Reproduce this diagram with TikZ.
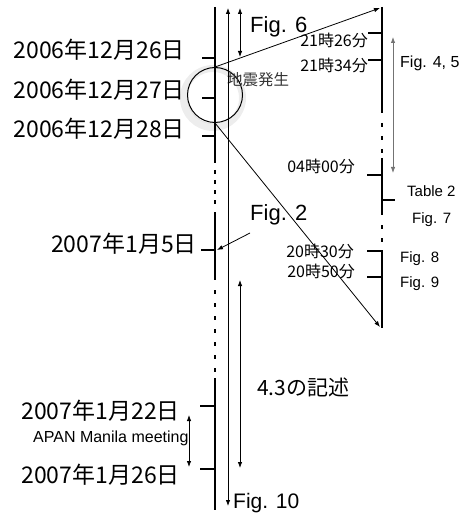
\documentclass[tikz,border=0pt]{standalone}
\usepackage{fontspec}
\setmainfont{Liberation Sans}
\newfontfamily\jp{Noto Sans CJK JP}
\usetikzlibrary{arrows.meta}
\begin{document}
\begin{tikzpicture}[x=1bp,y=-1bp,
  tl/.style={line width=2.6bp},
  dotA/.style={line width=2.6bp, dash pattern=on 4bp off 6bp},
  dotB/.style={line width=2.6bp, dash pattern=on 4bp off 9bp},
  tip/.tip={Latex[length=6bp,width=4.5bp]},
  arr/.style={line width=0.8bp, -tip},
  darr/.style={line width=0.8bp, tip-tip},
  datelbl/.style={font={\jp\fontsize{23bp}{27bp}\selectfont}, anchor=base east, inner sep=0},
  timelbl/.style={font={\jp\fontsize{16bp}{19bp}\selectfont}, anchor=base east, inner sep=0},
  figL/.style={font={\fontsize{22bp}{26bp}\selectfont}, anchor=base west, inner sep=0},
  figS/.style={font={\fontsize{15bp}{18bp}\selectfont}, anchor=base west, inner sep=0}
]
\useasboundingbox (0,0) rectangle (469,517);

% ---------- earthquake circle shadow ----------
\draw[black!12, line width=4bp] (214,97) circle (28.5);
\draw[black!7, line width=7bp] (213,98) circle (29.5);

% ---------- left timeline ----------
\coordinate (L0) at (215,7);
\coordinate (L1) at (215,163);
\coordinate (L1a) at (215,170);
\coordinate (L1b) at (215,206);
\coordinate (L2) at (215,212);
\coordinate (L3) at (215,280);
\coordinate (L3a) at (215,290);
\coordinate (L3b) at (215,374);
\coordinate (L4) at (215,378);
\coordinate (L5) at (215,510);
\draw[tl] (L0) -- (L1);
\draw[dotA] (L1a) -- (L1b);
\draw[tl] (L2) -- (L3);
\draw[dotB] (L3a) -- (L3b);
\draw[tl] (L4) -- (L5);

% ticks left
\coordinate (d1) at (215,58);
\coordinate (d2) at (215,98);
\coordinate (d3) at (215,136);
\coordinate (d4) at (215,250);
\coordinate (d5) at (215,406);
\coordinate (d6) at (215,469);
\draw[tl] (d1) -- ++(-13,0);
\draw[tl] (d2) -- ++(-13,0);
\draw[tl] (d3) -- ++(-13,0);
\draw[tl] (d4) -- ++(-14,0);
\draw[tl] (d5) -- ++(-15,0);
\draw[tl] (d6) -- ++(-15,0);

% dates
\node[datelbl] (t1) at (185,59) {2006年12月26日};
\node[datelbl] (t2) at (185,99) {2006年12月27日};
\node[datelbl] (t3) at (185,138) {2006年12月28日};
\node[datelbl] (t4) at (197,252) {2007年1月5日};
\node[datelbl] (t5) at (180,419) {2007年1月22日};
\node[datelbl] (t6) at (180,483) {2007年1月26日};

% ---------- right timeline ----------
\coordinate (R0) at (382,7);
\coordinate (R1) at (382,113);
\coordinate (R1a) at (382,123);
\coordinate (R1b) at (382,154);
\coordinate (R2) at (382,158);
\coordinate (R3) at (382,215);
\coordinate (R3a) at (382,225);
\coordinate (R3b) at (382,244);
\coordinate (R4) at (382,250);
\coordinate (R5) at (382,328);
\draw[tl] (R0) -- (R1);
\draw[dotB] (R1a) -- (R1b);
\draw[tl] (R2) -- (R3);
\draw[dotB] (R3a) -- (R3b);
\draw[tl] (R4) -- (R5);

\coordinate (h1) at (382,33);
\coordinate (h2) at (382,60);
\coordinate (h3) at (382,175);
\coordinate (h4) at (382,200);
\coordinate (h5) at (382,251);
\coordinate (h6) at (382,277);
\draw[tl] (h1) -- ++(-14,0);
\draw[tl] (h2) -- ++(-14,0);
\draw[tl] (h3) -- ++(-15,0);
\draw[tl] (h4) -- ++(13,0);
\draw[tl] (h5) -- ++(-15,0);
\draw[tl] (h6) -- ++(-15,0);

\node[timelbl] (m1) at (368,47) {21時26分};
\node[timelbl] (m2) at (368,72) {21時34分};
\node[timelbl] (m3) at (355,173) {04時00分};
\node[timelbl] (m4) at (354,257) {20時30分};
\node[timelbl] (m5) at (355,277) {20時50分};

\node[figS] (tab2) at (407,197) {Table 2};
\node[figS] (f7) at (412,223) {Fig. 7};
\node[figS] (f8) at (400,262) {Fig. 8};
\node[figS] (f9) at (400,287) {Fig. 9};
\node[font={\fontsize{16bp}{19bp}\selectfont}, anchor=base west, inner sep=0] (f45) at (400,68) {Fig. 4, 5};

% ---------- earthquake circle ----------
\node[circle, draw, line width=1bp, minimum size=55bp, inner sep=0] (quake) at (215,95) {};
\node[font={\jp\fontsize{15.5bp}{18bp}\selectfont}, anchor=base west, inner sep=0, text=black!80] (eq) at (227,86) {地震発生};

% ---------- arrows ----------
\coordinate (a1t) at (228,8);
\coordinate (a1b) at (228,506);
\draw[darr] (a1t) -- (a1b);
\coordinate (a2t) at (240,8);
\coordinate (a2b) at (240,57);
\draw[darr] (a2t) -- (a2b);
\coordinate (a3t) at (393,37);
\coordinate (a3b) at (393,173);
\draw[darr, draw=black!55, fill=black!55] (a3t) -- (a3b);
\coordinate (a4t) at (240,280);
\coordinate (a4b) at (240,468);
\draw[darr] (a4t) -- (a4b);
\coordinate (a5t) at (189,415);
\coordinate (a5b) at (189,467);
\draw[darr] (a5t) -- (a5b);

\coordinate (rt) at (380,8);
\coordinate (rb) at (380,327);
\draw[arr] (quake.north) -- (rt);
\draw[arr] (quake.south) -- (rb);

\coordinate (f2s) at (250,233);
\coordinate (f2e) at (217,250);
\draw[arr] (f2s) -- (f2e);

% ---------- labels ----------
\node[figL] (f6) at (250,33) {Fig. 6};
\node[figL] (f2) at (250,220) {Fig. 2};
\node[font={\fontsize{21bp}{25bp}\selectfont}, anchor=base west, inner sep=0] (f10) at (233,508) {Fig. 10};
\node[font={\jp\fontsize{21bp}{25bp}\selectfont}, anchor=base west, inner sep=0] (s43) at (257,395) {4.3の記述};
\node[font={\fontsize{16bp}{19bp}\selectfont}, anchor=base west, inner sep=0] (apan) at (33,442) {APAN Manila meeting};
\end{tikzpicture}
\end{document}
